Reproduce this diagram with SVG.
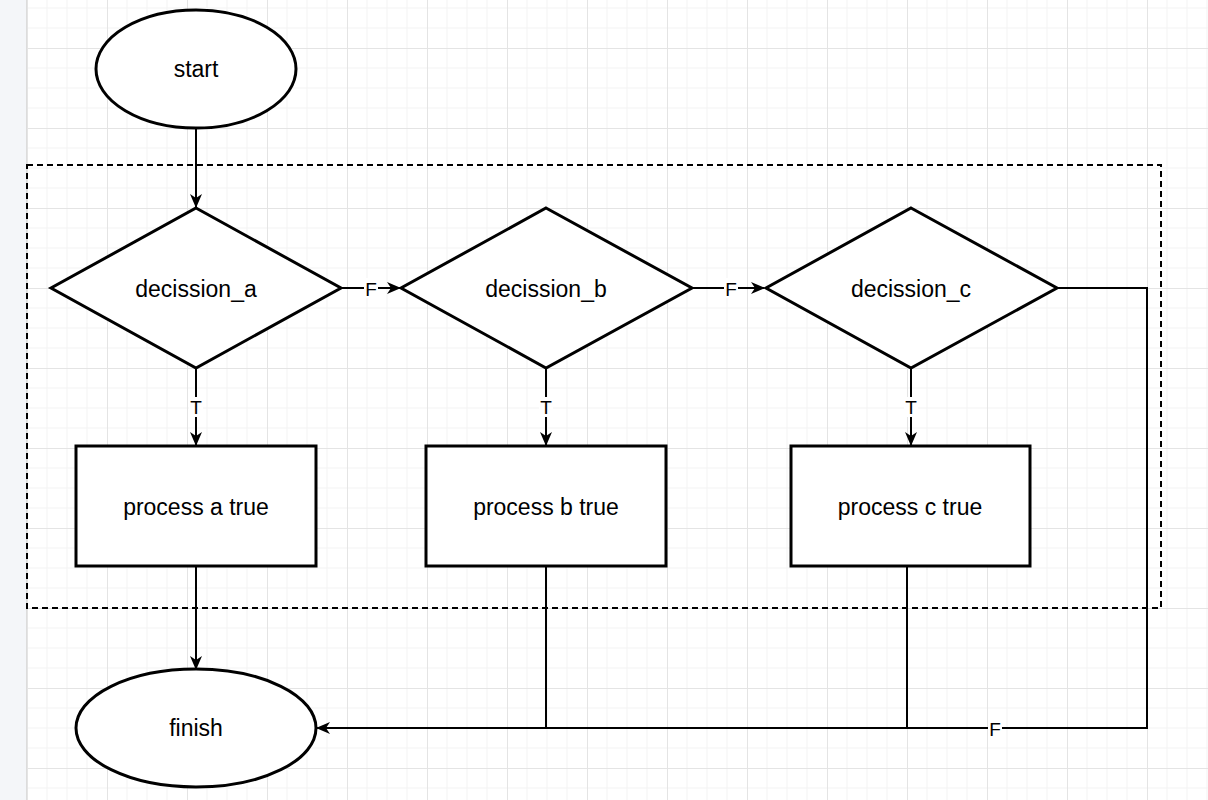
<svg xmlns="http://www.w3.org/2000/svg" width="1208" height="800" viewBox="0 0 1208 800">
<style>
.shape{fill:#ffffff;stroke:#000000;stroke-width:3}
.edge{fill:none;stroke:#000000;stroke-width:2}
.txt{font-family:"Liberation Sans",Arial,sans-serif;font-size:23px;fill:#000000;text-anchor:middle;dominant-baseline:central}
.lbl{font-family:"Liberation Sans",Arial,sans-serif;font-size:19px;fill:#000000;text-anchor:middle;dominant-baseline:central}
</style>
<defs>
<pattern id="grid" x="27" y="48" width="80" height="80" patternUnits="userSpaceOnUse">
<path d="M20 0V80M40 0V80M60 0V80M0 20H80M0 40H80M0 60H80" stroke="#f3f3f3" stroke-width="1" fill="none"/>
<path d="M0.5 0V80M0 0.5H80" stroke="#e4e4e4" stroke-width="1" fill="none"/>
</pattern>
<marker id="arr" viewBox="0 0 14 12" refX="13" refY="6" markerWidth="14" markerHeight="12" markerUnits="userSpaceOnUse" orient="auto">
<path d="M0 0L14 6L0 12L4 6Z" fill="#000"/>
</marker>
</defs>
<rect x="0" y="0" width="1208" height="800" fill="#ffffff"/>
<rect x="27" y="0" width="1181" height="800" fill="url(#grid)"/>
<rect x="0" y="0" width="26" height="800" fill="#f4f6f9"/>
<line x1="26.5" y1="0" x2="26.5" y2="800" stroke="#dcdcdc" stroke-width="1"/>
<g id="container">
<rect x="27" y="165" width="1134" height="443" fill="none" stroke="#000" stroke-width="2" stroke-dasharray="6 4"/>
</g>
<g id="connectors">
<path class="edge" d="M196 128V207" marker-end="url(#arr)"/>
<path class="edge" d="M341 288H400" marker-end="url(#arr)"/>
<path class="edge" d="M692 288H764" marker-end="url(#arr)"/>
<path class="edge" d="M196 368V445" marker-end="url(#arr)"/>
<path class="edge" d="M546 368V445" marker-end="url(#arr)"/>
<path class="edge" d="M911 368V445" marker-end="url(#arr)"/>
<path class="edge" d="M196 566V669" marker-end="url(#arr)"/>
<path class="edge" d="M546 566V728H317" marker-end="url(#arr)"/>
<path class="edge" d="M907 566V728H546"/>
<path class="edge" d="M1057 288H1147V728H907"/>
<rect x="364" y="278" width="14" height="20" fill="#fff"/>
<text class="lbl" x="371" y="289">F</text>
<rect x="724" y="278" width="14" height="20" fill="#fff"/>
<text class="lbl" x="731" y="289">F</text>
<rect x="189" y="397" width="14" height="20" fill="#fff"/>
<text class="lbl" x="196" y="407">T</text>
<rect x="539" y="397" width="14" height="20" fill="#fff"/>
<text class="lbl" x="546" y="407">T</text>
<rect x="904" y="397" width="14" height="20" fill="#fff"/>
<text class="lbl" x="911" y="407">T</text>
<rect x="988" y="718" width="14" height="20" fill="#fff"/>
<text class="lbl" x="995" y="729">F</text>
</g>
<g id="start">
<ellipse class="shape" cx="196" cy="69" rx="100" ry="59"/>
<text class="txt" x="196" y="69">start</text>
</g>
<g id="decission_a">
<path class="shape" d="M196 208L341 288L196 368L51 288Z"/>
<text class="txt" x="196" y="289">decission_a</text>
</g>
<g id="decission_b">
<path class="shape" d="M546 208L692 288L546 368L401 288Z"/>
<text class="txt" x="546" y="289">decission_b</text>
</g>
<g id="decission_c">
<path class="shape" d="M911 208L1057 288L911 368L766 288Z"/>
<text class="txt" x="911" y="289">decission_c</text>
</g>
<g id="process_a">
<rect class="shape" x="76" y="446" width="240" height="120"/>
<text class="txt" x="196" y="507">process a true</text>
</g>
<g id="process_b">
<rect class="shape" x="426" y="446" width="240" height="120"/>
<text class="txt" x="546" y="507">process b true</text>
</g>
<g id="process_c">
<rect class="shape" x="791" y="446" width="239" height="120"/>
<text class="txt" x="910" y="507">process c true</text>
</g>
<g id="finish">
<ellipse class="shape" cx="196" cy="728" rx="120" ry="59"/>
<text class="txt" x="196" y="728">finish</text>
</g>
</svg>
